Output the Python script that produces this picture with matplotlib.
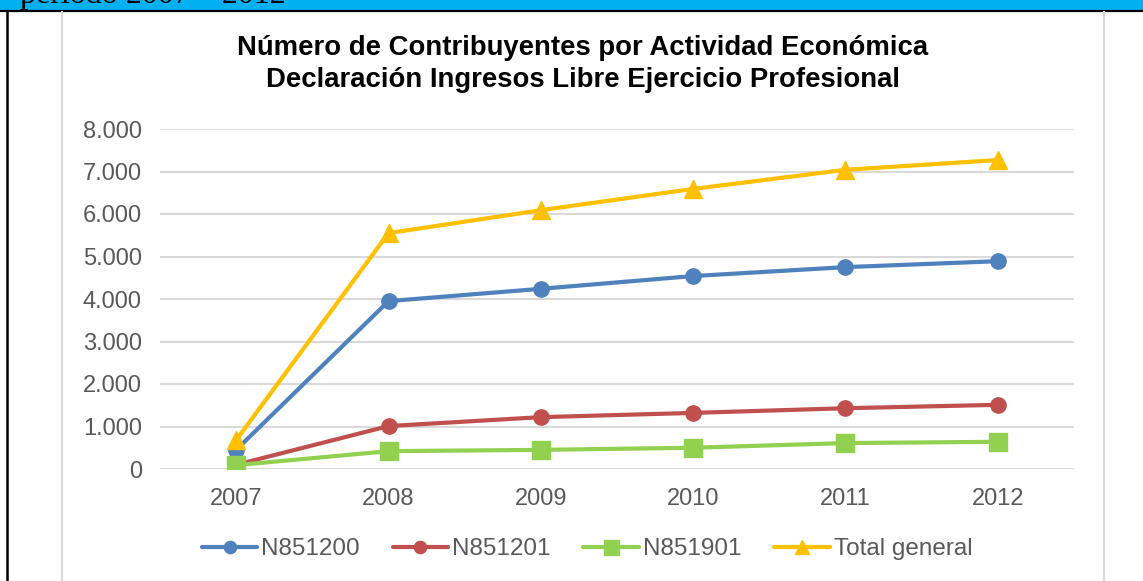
import matplotlib.pyplot as plt
from matplotlib.lines import Line2D
from matplotlib.patches import Rectangle
from matplotlib.ticker import FuncFormatter

# datos
years = ['2007', '2008', '2009', '2010', '2011', '2012']
n851200 = [450, 3950, 4240, 4540, 4750, 4890]
n851201 = [100, 1010, 1220, 1320, 1430, 1510]
n851901 = [90, 420, 450, 500, 610, 640]
total = [680, 5550, 6090, 6590, 7040, 7270]

series = [
    ('N851200', n851200, '#4F81BD', 'o', 11),
    ('N851201', n851201, '#C0504D', 'o', 11),
    ('N851901', n851901, '#92D050', 's', 13.5),
    ('Total general', total, '#FFC000', '^', 13),
]

plt.rcParams['font.family'] = ['Liberation Sans', 'DejaVu Sans']

W, H = 1143, 581
fig = plt.figure(figsize=(W / 100, H / 100), dpi=100)

# banda superior del documento
fig.patches.append(Rectangle((0, 1 - 10.5 / H), 1, 10.5 / H, transform=fig.transFigure,
                             facecolor='#00B0F0', edgecolor='none', zorder=0))
fig.add_artist(Line2D([0, 1], [1 - 11 / H] * 2, transform=fig.transFigure, color='black', lw=1.6))
fig.add_artist(Line2D([6.5 / W] * 2, [0, 1 - 11 / H], transform=fig.transFigure, color='black', lw=1.8))
fig.add_artist(Line2D([62 / W] * 2, [0, 1 - 12 / H], transform=fig.transFigure, color='#D9D9D9', lw=1.5))
fig.add_artist(Line2D([1104 / W] * 2, [0, 1 - 12 / H], transform=fig.transFigure, color='#D9D9D9', lw=1.5))
# texto del documento, cortado en el borde superior como en el original
fig.text(20 / W, 1 - 3 / H, 'período 2007 – 2012', family='Liberation Serif', fontsize=23,
         va='baseline', ha='left', color='black')

ax = fig.add_axes([160 / W, 1 - 469 / H, (1074 - 160) / W, (469 - 129) / H])
x = list(range(len(years)))
for name, vals, color, marker, ms in series:
    ax.plot(x, vals, color=color, lw=3, marker=marker, markersize=ms,
            solid_capstyle='round', label=name, zorder=3)

ax.set_xlim(-0.5, 5.5)
ax.set_ylim(0, 8000)
ax.set_yticks(range(0, 8001, 1000))
ax.yaxis.set_major_formatter(FuncFormatter(lambda v, p: f'{int(v):,}'.replace(',', '.')))
ax.set_xticks(x)
ax.set_xticklabels(years)
ax.grid(axis='y', color='#D9D9D9', lw=1.5, zorder=0)
ax.set_axisbelow(True)
for s in ax.spines.values():
    s.set_visible(False)
ax.tick_params(axis='both', length=0, labelsize=17, colors='#595959')
ax.tick_params(axis='y', pad=13)
ax.tick_params(axis='x', pad=14)

fig.text(583 / W, 1 - 48 / H, 'Número de Contribuyentes por Actividad Económica',
         ha='center', va='center', fontsize=19.8, fontweight='bold')
fig.text(583 / W, 1 - 80 / H, 'Declaración Ingresos Libre Ejercicio Profesional',
         ha='center', va='center', fontsize=19.8, fontweight='bold')

leg = fig.legend(loc='center', bbox_to_anchor=(587 / W, 1 - 549 / H), ncol=4, frameon=False,
                 fontsize=17.5, handlelength=2.3, handletextpad=0.15, columnspacing=1.35,
                 markerscale=0.8)
for t in leg.get_texts():
    t.set_color('#595959')

plt.savefig('out.png', dpi=100)
